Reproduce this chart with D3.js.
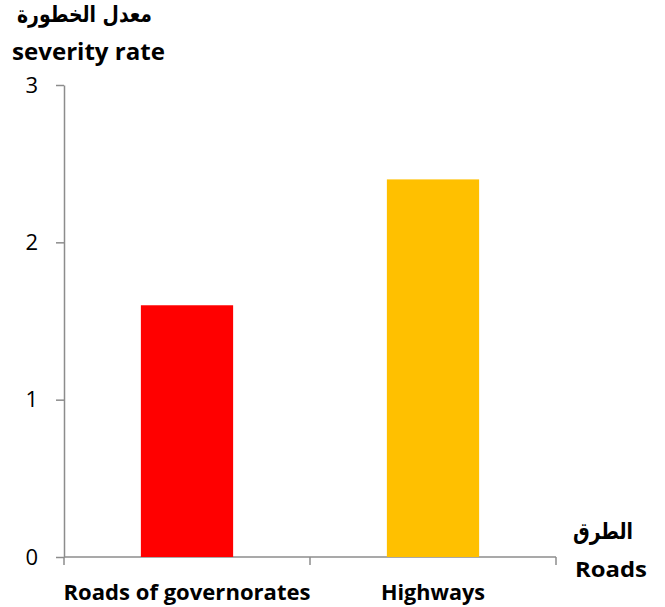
<!DOCTYPE html>
<html>
<head>
<meta charset="utf-8">
<script src="https://cdn.jsdelivr.net/npm/d3@7"></script>
<style>
  body { margin: 0; background: #fff; }
  .lbl { font-family: "Open Sans", Lato, sans-serif; font-weight: bold; fill: #000; }
  .ar { font-family: "DejaVu Sans", sans-serif; font-weight: bold; fill: #000; }
  .y-axis text { font-family: "Open Sans", Lato, sans-serif; font-size: 22px; fill: #000; }
  .domain, .tick line { stroke: #8c8c8c; stroke-width: 1.5; }
</style>
</head>
<body>
<div id="chart"></div>
<script>
const categories = ['Roads of governorates', 'Highways'];
const values = [1.6, 2.4];
const barColors = ['#ff0000', '#ffc000'];
const yTicks = [0, 1, 2, 3];

const totalWidth = 665;
const totalHeight = 607;
const plotLeft = 64, plotRight = 556, plotTop = 85, plotBottom = 557;

const svg = d3.select('#chart').append('svg')
    .attr('width', totalWidth)
    .attr('height', totalHeight);

const scaleY = d3.scaleLinear()
    .domain([0, 3])
    .range([plotBottom, plotTop]);
const scaleX = d3.scaleBand()
    .domain(categories)
    .range([plotLeft, plotRight])
    .padding(0);

// y axis
svg.append('g')
    .attr('class', 'y-axis')
    .attr('transform', `translate(${plotLeft},0)`)
    .call(d3.axisLeft(scaleY).tickValues(yTicks).tickSize(8).tickSizeOuter(0).tickPadding(18).tickFormat(d3.format('d')));

// x axis: ticks at category boundaries
const xAxis = svg.append('g')
    .attr('transform', `translate(0,${plotBottom})`);
xAxis.append('line')
    .attr('class', 'domain')
    .attr('x1', plotLeft).attr('x2', plotRight)
    .attr('y1', 0).attr('y2', 0);
const boundaries = categories.map(c => scaleX(c)).concat([scaleX(categories[categories.length - 1]) + scaleX.bandwidth()]);
xAxis.selectAll('.xt')
    .data(boundaries)
    .enter()
    .append('line')
    .attr('class', 'domain')
    .attr('x1', d => d).attr('x2', d => d)
    .attr('y1', 0).attr('y2', 8);
const labelWidths = [247, 104];
xAxis.selectAll('.xl')
    .data(categories)
    .enter()
    .append('text')
    .attr('class', 'lbl')
    .attr('x', d => scaleX(d) + scaleX.bandwidth() / 2)
    .attr('y', 43)
    .attr('text-anchor', 'middle')
    .attr('textLength', (d, i) => labelWidths[i])
    .attr('lengthAdjust', 'spacingAndGlyphs')
    .style('font-size', '22px')
    .text(d => d);

// bars
const barW = scaleX.bandwidth() * 0.375;
svg.selectAll('.bar')
    .data(categories)
    .enter()
    .append('rect')
    .attr('x', d => scaleX(d) + (scaleX.bandwidth() - barW) / 2)
    .attr('y', (d, i) => scaleY(values[i]))
    .attr('width', barW)
    .attr('height', (d, i) => plotBottom - scaleY(values[i]))
    .attr('fill', (d, i) => barColors[i]);

// axis titles
svg.append('text').attr('class', 'ar')
    .attr('x', 17).attr('y', 22)
    .attr('textLength', 135)
    .attr('lengthAdjust', 'spacingAndGlyphs')
    .style('font-size', '23px')
    .text('معدل الخطورة');
svg.append('text').attr('class', 'lbl')
    .attr('x', 12).attr('y', 60)
    .attr('textLength', 153)
    .attr('lengthAdjust', 'spacingAndGlyphs')
    .style('font-size', '23px')
    .text('severity rate');
svg.append('text').attr('class', 'ar')
    .attr('x', 573).attr('y', 539)
    .attr('textLength', 60)
    .attr('lengthAdjust', 'spacingAndGlyphs')
    .style('font-size', '23px')
    .text('الطرق');
svg.append('text').attr('class', 'lbl')
    .attr('x', 575).attr('y', 577)
    .attr('textLength', 72)
    .attr('lengthAdjust', 'spacingAndGlyphs')
    .style('font-size', '22px')
    .text('Roads');
</script>
</body>
</html>
